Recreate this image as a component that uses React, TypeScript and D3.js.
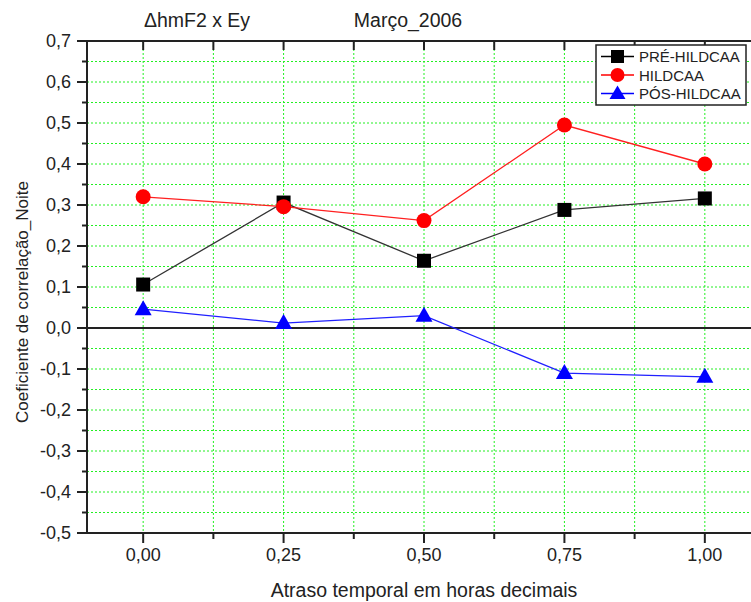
import React from "react";
import * as d3 from "d3";

const lags = [0, 0.25, 0.5, 0.75, 1.0];
const preHildcaa = [0.106, 0.306, 0.164, 0.288, 0.316];
const hildcaa = [0.32, 0.296, 0.262, 0.495, 0.4];
const posHildcaa = [0.046, 0.012, 0.03, -0.11, -0.119];
const xTickLabels = ["0,00", "0,25", "0,50", "0,75", "1,00"];
const yTicks = [0.7, 0.6, 0.5, 0.4, 0.3, 0.2, 0.1, 0, -0.1, -0.2, -0.3, -0.4, -0.5];
const seriesNames = ["PRÉ-HILDCAA", "HILDCAA", "PÓS-HILDCAA"];
const seriesColors = ["#000000", "#ff0000", "#0000ff"];
const lineColors = ["#333333", "#ff2020", "#2020ff"];

const W = 751, H = 602;
const M = { left: 87, right: 761, top: 41, bottom: 533 };

export default function App() {
  const x = d3.scaleLinear().domain([-0.1, 1.1]).range([M.left, M.right]);
  const y = d3.scaleLinear().domain([-0.5, 0.7]).range([M.bottom, M.top]);
  const font = "'Liberation Sans', Arial, sans-serif";
  const gridX = d3.range(-1, 10).map((i) => i * 0.125).filter((v) => v > -0.1 && v < 1.1);
  const gridY = d3.range(-10, 15).map((i) => i * 0.05).filter((v) => v > -0.499 && v < 0.699);
  const allY = d3.range(-10, 15).map((i) => +(i * 0.05).toFixed(2));
  const line = d3.line<number>().x((_, i) => x(lags[i])).y((d) => y(d));
  const data = [preHildcaa, hildcaa, posHildcaa];

  const marker = (k: number, cx: number, cy: number, key: string) => {
    if (k === 0) return <rect key={key} x={cx - 7} y={cy - 7} width={14} height={14} fill={seriesColors[0]} />;
    if (k === 1) return <circle key={key} cx={cx} cy={cy} r={7.5} fill={seriesColors[1]} />;
    return <path key={key} d={`M${cx},${cy - 9}L${cx + 8.5},${cy + 6}L${cx - 8.5},${cy + 6}Z`} fill={seriesColors[2]} />;
  };

  return (
    <svg width={W} height={H} style={{ position: "absolute", left: 0, top: 0, background: "#fff" }}>
      <rect x={0} y={0} width={W} height={H} fill="#fff" />
      {/* grid */}
      {gridX.map((v) => (
        <line key={"gx" + v} x1={x(v)} x2={x(v)} y1={M.top} y2={M.bottom} stroke="#22f022" strokeWidth={1} strokeDasharray="2,2" />
      ))}
      {gridY.map((v) => (
        <line key={"gy" + v} x1={M.left} x2={M.right} y1={y(v)} y2={y(v)} stroke="#22f022" strokeWidth={1} strokeDasharray="2,2" />
      ))}
      {/* zero line */}
      <line x1={M.left} x2={M.right} y1={y(0)} y2={y(0)} stroke="#222" strokeWidth={2} />
      {/* frame */}
      <rect x={M.left} y={M.top} width={M.right - M.left} height={M.bottom - M.top} fill="none" stroke="#222" strokeWidth={2} />
      {/* left/right ticks */}
      {allY.map((v) => {
        const major = Math.abs(Math.round(v * 10) - v * 10) < 1e-6;
        return (
          <g key={"ly" + v}>
            <line x1={M.left - (major ? 10 : 5)} x2={M.left} y1={y(v)} y2={y(v)} stroke="#222" strokeWidth={2} />
            <line x1={M.right - (major ? 10 : 5)} x2={M.right} y1={y(v)} y2={y(v)} stroke="#222" strokeWidth={2} />
          </g>
        );
      })}
      {yTicks.map((v) => (
        <text key={"yt" + v} x={71} y={y(v) + 6} textAnchor="end" fontFamily={font} fontSize={18} fill="#222">
          {d3.format(".1f")(v).replace(".", ",").replace("−", "-")}
        </text>
      ))}
      {/* bottom/top ticks */}
      {gridX.map((v) => {
        const major = Math.abs(v * 4 - Math.round(v * 4)) < 1e-6;
        return (
          <g key={"bx" + v}>
            <line x1={x(v)} x2={x(v)} y1={M.bottom} y2={M.bottom + (major ? 10 : 6)} stroke="#222" strokeWidth={2} />
            <line x1={x(v)} x2={x(v)} y1={M.top} y2={M.top + 9} stroke="#222" strokeWidth={2} />
          </g>
        );
      })}
      {lags.map((v, i) => (
        <text key={"xt" + v} x={x(v)} y={561} textAnchor="middle" fontFamily={font} fontSize={18} fill="#222">
          {xTickLabels[i]}
        </text>
      ))}
      {/* series */}
      {data.map((s, k) => (
        <path key={"l" + k} d={line(s) || ""} fill="none" stroke={lineColors[k]} strokeWidth={1.3} />
      ))}
      {data.map((s, k) => s.map((v, i) => marker(k, x(lags[i]), y(v), `m${k}-${i}`)))}
      {/* legend */}
      <rect x={596} y={45} width={150} height={60} fill="#fff" stroke="#222" strokeWidth={1.5} />
      {seriesNames.map((n, k) => {
        const ly = 56.5 + k * 18.5;
        return (
          <g key={"lg" + k}>
            <line x1={601} x2={634} y1={ly} y2={ly} stroke={seriesColors[k]} strokeWidth={1.3} />
            {k === 0 && <rect x={611} y={ly - 6.5} width={13} height={13} fill={seriesColors[0]} />}
            {k === 1 && <circle cx={617.5} cy={ly} r={7} fill={seriesColors[1]} />}
            {k === 2 && <path d={`M617.5,${ly - 8}L625.5,${ly + 5.5}L609.5,${ly + 5.5}Z`} fill={seriesColors[2]} />}
            <text x={639} y={ly + 5.5} fontFamily={font} fontSize={15} fill="#222">{n}</text>
          </g>
        );
      })}
      {/* titles */}
      <text x={197} y={27} textAnchor="middle" fontFamily={font} fontSize={19.5} fill="#222">ΔhmF2 x Ey</text>
      <text x={408} y={27} textAnchor="middle" fontFamily={font} fontSize={19.5} fill="#222">Março_2006</text>
      <text x={424} y={597} textAnchor="middle" fontFamily={font} fontSize={19.5} fill="#222">Atraso temporal em horas decimais</text>
      <text transform={`translate(28,302) rotate(-90)`} textAnchor="middle" fontFamily={font} fontSize={17} fill="#222">
        Coeficiente de correlação_Noite
      </text>
    </svg>
  );
}
